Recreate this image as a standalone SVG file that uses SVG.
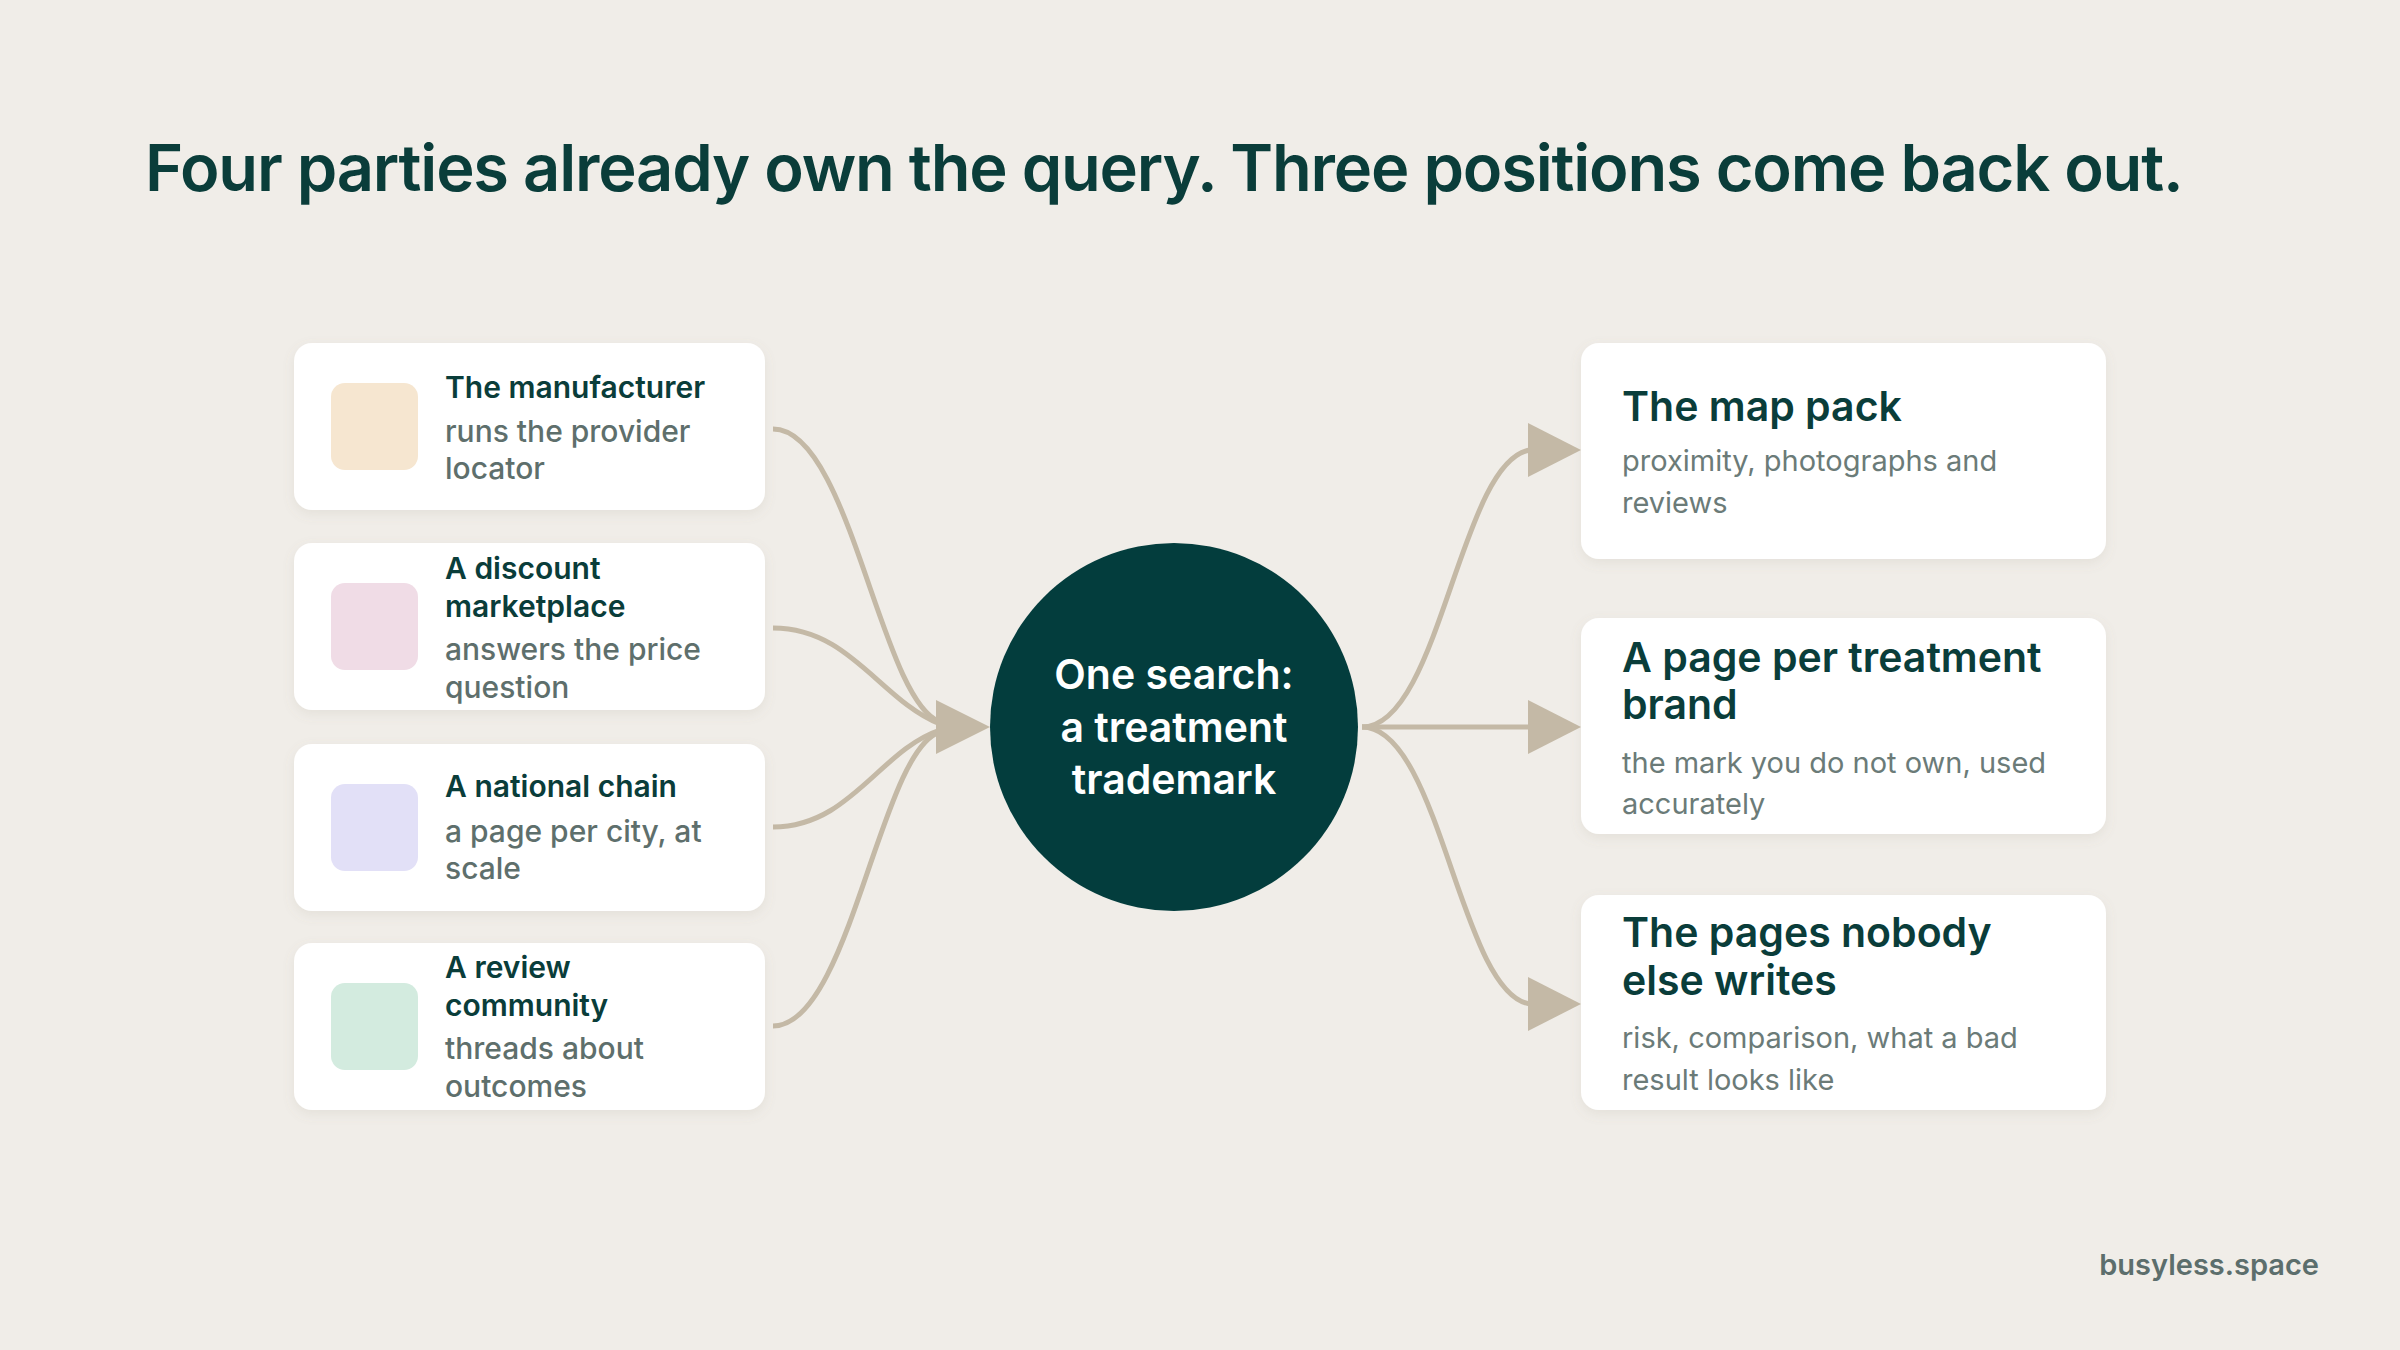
<svg xmlns="http://www.w3.org/2000/svg" width="2400" height="1350" viewBox="0 0 2400 1350">
<defs>
<filter id="sh" x="-10%" y="-10%" width="120%" height="130%"><feDropShadow dx="0" dy="4" stdDeviation="6" flood-color="#8a7f6e" flood-opacity="0.12"/></filter>
<style>
text{font-family:Inter,"Noto Sans",sans-serif}
.box{fill:#fff;filter:url(#sh)}
.lt{font-size:30px;font-weight:600;fill:#0a3d3a}
.ls{font-size:30px;font-weight:500;fill:#5e6f6c}
.rt{font-size:41px;font-weight:600;fill:#0a3d3a}
.rs{font-size:29px;fill:#6b7b78}
.ct{font-size:41px;font-weight:600;fill:#fff;text-anchor:middle}
.c{fill:none;stroke:#c4b9a6;stroke-width:5}
.ah{fill:#c4b9a6}
</style>
</defs>
<rect width="2400" height="1350" fill="#f0ede8"/>
<text x="145" y="191" font-size="65" font-weight="600" fill="#0a3d3a" letter-spacing="-1.2">Four parties already own the query. Three positions come back out.</text>
<g id="connectors">
<path class="c" d="M773,429 C850,429 880,700 940,722"/>
<path class="c" d="M773,628 C850,628 880,700 940,724"/>
<path class="c" d="M773,827 C850,827 880,750 940,730"/>
<path class="c" d="M773,1026 C850,1026 880,750 940,732"/>
<polygon class="ah" points="990,727 936,700 936,754"/>
<path class="c" d="M1362,727 C1440,727 1460,460 1530,450"/>
<path class="c" d="M1362,727 L1530,727"/>
<path class="c" d="M1362,727 C1440,727 1460,994 1530,1004"/>
<polygon class="ah" points="1581,450 1528,423 1528,477"/>
<polygon class="ah" points="1581,727 1528,700 1528,754"/>
<polygon class="ah" points="1581,1004 1528,977 1528,1031"/>
</g>
<g id="n1"><rect class="box" x="294" y="343" width="471" height="167" rx="18"/><rect x="331" y="383" width="87" height="87" rx="14" fill="#f6e6d0"/>
<text class="lt" x="445" y="398">The manufacturer</text><text class="ls" x="445" y="442">runs the provider</text><text class="ls" x="445" y="479">locator</text></g>
<g id="n2"><rect class="box" x="294" y="543" width="471" height="167" rx="18"/><rect x="331" y="583" width="87" height="87" rx="14" fill="#f0dce6"/>
<text class="lt" x="445" y="579">A discount</text><text class="lt" x="445" y="617">marketplace</text><text class="ls" x="445" y="660">answers the price</text><text class="ls" x="445" y="698">question</text></g>
<g id="n3"><rect class="box" x="294" y="744" width="471" height="167" rx="18"/><rect x="331" y="784" width="87" height="87" rx="14" fill="#e2e0f7"/>
<text class="lt" x="445" y="797">A national chain</text><text class="ls" x="445" y="842">a page per city, at</text><text class="ls" x="445" y="879">scale</text></g>
<g id="n4"><rect class="box" x="294" y="943" width="471" height="167" rx="18"/><rect x="331" y="983" width="87" height="87" rx="14" fill="#d3ebdf"/>
<text class="lt" x="445" y="978">A review</text><text class="lt" x="445" y="1016">community</text><text class="ls" x="445" y="1059">threads about</text><text class="ls" x="445" y="1097">outcomes</text></g>
<g id="center"><circle cx="1174" cy="727" r="184" fill="#033d3d"/>
<text class="ct" x="1174" y="689">One search:</text><text class="ct" x="1174" y="742">a treatment</text><text class="ct" x="1174" y="794">trademark</text></g>
<g id="r1"><rect class="box" x="1581" y="343" width="525" height="216" rx="18"/>
<text class="rt" x="1622" y="421">The map pack</text><text class="rs" x="1622" y="471">proximity, photographs and</text><text class="rs" x="1622" y="513">reviews</text></g>
<g id="r2"><rect class="box" x="1581" y="618" width="525" height="216" rx="18"/>
<text class="rt" x="1622" y="672">A page per treatment</text><text class="rt" x="1622" y="719">brand</text><text class="rs" x="1622" y="773">the mark you do not own, used</text><text class="rs" x="1622" y="814">accurately</text></g>
<g id="r3"><rect class="box" x="1581" y="895" width="525" height="215" rx="18"/>
<text class="rt" x="1622" y="947">The pages nobody</text><text class="rt" x="1622" y="995">else writes</text><text class="rs" x="1622" y="1048">risk, comparison, what a bad</text><text class="rs" x="1622" y="1090">result looks like</text></g>
<text x="2319" y="1275" text-anchor="end" font-size="29" font-weight="600" fill="#5c6e6c">busyless.space</text>
</svg>
